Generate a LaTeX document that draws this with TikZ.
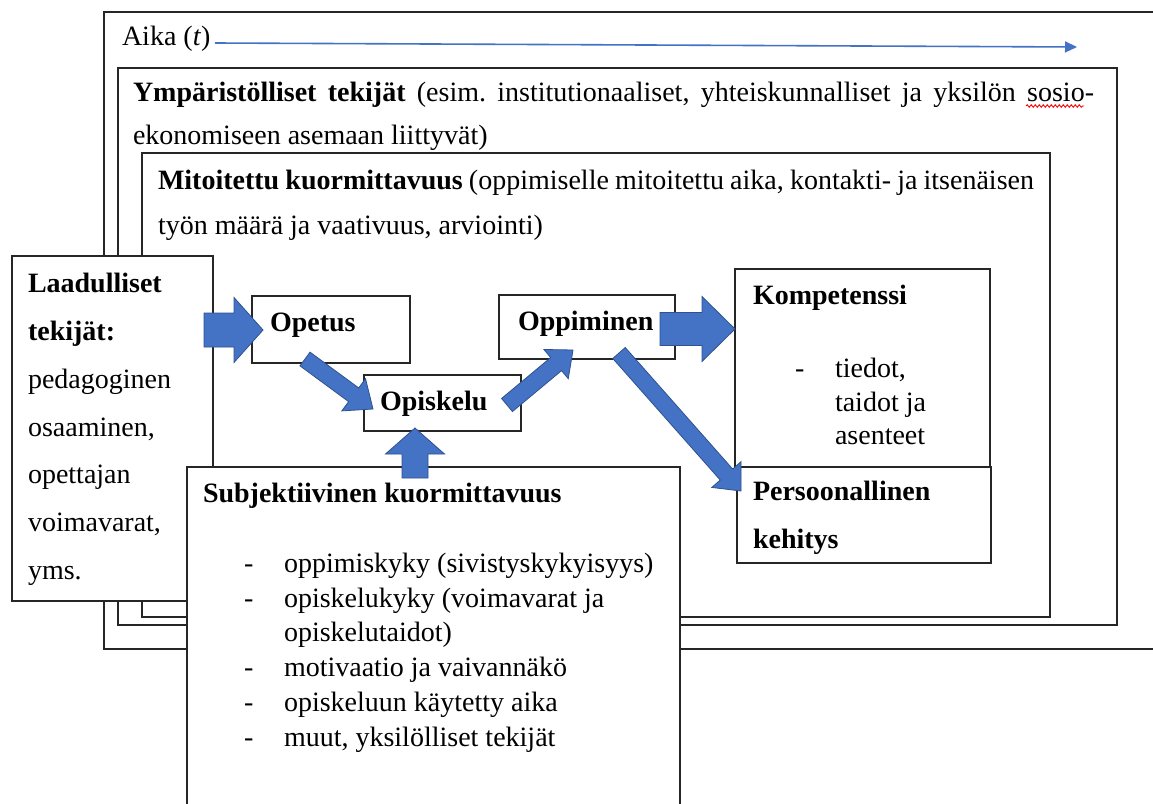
\documentclass[tikz,border=0pt]{standalone}
\usepackage{fontspec}
\setmainfont{Liberation Serif}
\usetikzlibrary{calc,arrows.meta,decorations.pathmorphing}
\frenchspacing

\definecolor{officeblue}{HTML}{4472C4}
\definecolor{officeedge}{HTML}{2F528F}

\tikzset{
  panel/.style={draw=black!85, line width=1.2pt, fill=white, rectangle,
    inner sep=0pt, outer sep=0pt, anchor=north west},
  txt/.style={anchor=base west, inner sep=0pt, outer sep=0pt,
    font=\fontsize{28}{34}\selectfont},
  blockarrow/.style={fill=officeblue, draw=officeedge, line width=0.8pt,
    line join=miter},
}

% block arrow: #1 tail, #2 tip, #3 half shaft width, #4 half head width, #5 head length
\newcommand\blockarrow[5]{%
  \coordinate (ba-neck) at ($(#2)!#5!(#1)$);
  \filldraw[blockarrow]
    ($(#1)!#3!90:(#2)$) -- ($(ba-neck)!#3!90:(#2)$) --
    ($(ba-neck)!#4!90:(#2)$) -- (#2) --
    ($(ba-neck)!#4!-90:(#2)$) -- ($(ba-neck)!#3!-90:(#2)$) --
    ($(#1)!#3!-90:(#2)$) -- cycle;
}

\begin{document}
\begin{tikzpicture}[x=1pt, y=-1pt]
\clip (0,0) rectangle (1153,803);
\fill[white] (0,0) rectangle (1153,803);

% nested frames
\node[panel, minimum width=1100pt, minimum height=637pt] (time) at (104,12) {};
\node[panel, minimum width=999pt, minimum height=557pt] (env) at (118,68) {};
\node[panel, minimum width=908pt, minimum height=464pt] (load) at (142,153) {};

% time axis
\node[txt] (aika) at (122,45) {Aika (\textit{t})};
\coordinate (aikastart) at (215,43);
\coordinate (aikaend) at (1077,47);
\draw[officeblue, line width=1.6pt, -{Triangle[length=12pt,width=11pt]}] (aikastart) -- (aikaend);

% process boxes
\node[panel, minimum width=158pt, minimum height=67pt] (opetus) at (252,296) {};
\node[panel, minimum width=157pt, minimum height=56pt] (opiskelu) at (364,375) {};
\node[panel, minimum width=176pt, minimum height=64pt] (oppiminen) at (499,295) {};
\node[panel, minimum width=255pt, minimum height=198pt] (komp) at (735,269) {};
\node[panel, minimum width=254pt, minimum height=96pt] (pers) at (737,467) {};

% side boxes
\node[panel, minimum width=201pt, minimum height=345pt] (laad) at (12,256) {};
\node[panel, minimum width=493pt, minimum height=360pt] (subj) at (187,467) {};

% block arrows
\coordinate (a1s) at (204,330);  \coordinate (a1e) at (263,330);
\coordinate (a2s) at (305,359);  \coordinate (a2e) at (373,409);
\coordinate (a3s) at (507,405);  \coordinate (a3e) at (573,350);
\coordinate (a4s) at (660,329);  \coordinate (a4e) at (735,329);
\coordinate (a5s) at (619,353);  \coordinate (a5e) at (741,491);
\coordinate (a6s) at (415,478);  \coordinate (a6e) at (415,428);
\blockarrow{a1s}{a1e}{17pt}{32.5pt}{29pt}
\blockarrow{a2s}{a2e}{8.5pt}{20pt}{24pt}
\blockarrow{a3s}{a3e}{8.5pt}{19pt}{22pt}
\blockarrow{a4s}{a4e}{16.5pt}{32.5pt}{33pt}
\blockarrow{a5s}{a5e}{8.3pt}{19.5pt}{22pt}
\blockarrow{a6s}{a6e}{13pt}{29.5pt}{26pt}

% frame texts
\node[txt] (ymp1) at (133,101) {\makebox[961pt][s]{\textbf{Ympäristölliset tekijät} (esim. institutionaaliset, yhteiskunnalliset ja yksilön sosio-}};
\node[txt] (ymp2) at (133,144) {ekonomiseen asemaan liittyvät)};
\draw[red, line width=0.9pt, decorate, decoration={snake, amplitude=1.2pt, segment length=4pt}] (1026,106) -- (1084,106);
\node[txt] (mit1) at (158,189) {\makebox[876pt][s]{\textbf{Mitoitettu kuormittavuus} (oppimiselle mitoitettu aika, kontakti- ja itsenäisen}};
\node[txt] (mit2) at (158,234) {työn määrä ja vaativuus, arviointi)};

% left box text
\node[txt] (laad1) at (28,292) {\textbf{Laadulliset}};
\node[txt] (laad2) at (28,340) {\textbf{tekijät:}};
\node[txt] (laad3) at (28,388) {pedagoginen};
\node[txt] (laad4) at (28,436) {osaaminen,};
\node[txt] (laad5) at (28,483) {opettajan};
\node[txt] (laad6) at (28,531) {voimavarat,};
\node[txt] (laad7) at (28,579) {yms.};

% process texts
\node[txt] (topetus) at (270,331) {\textbf{Opetus}};
\node[txt] (topiskelu) at (380,410) {\textbf{Opiskelu}};
\node[txt] (toppiminen) at (518,330) {\textbf{Oppiminen}};

\node[txt] (tkomp) at (753,304) {\textbf{Kompetenssi}};
\node[txt] (kdash) at (795,377) {-};
\node[txt] (k1) at (835,377) {tiedot,};
\node[txt] (k2) at (835,411) {taidot ja};
\node[txt] (k3) at (835,444) {asenteet};

\node[txt] (tpers1) at (753,500) {\textbf{Persoonallinen}};
\node[txt] (tpers2) at (753,548) {\textbf{kehitys}};

% subjective load list
\node[txt] (tsubj) at (203,502) {\textbf{Subjektiivinen kuormittavuus}};
\node[txt] (sd1) at (244,572) {-};
\node[txt] (s1) at (284,572) {oppimiskyky (sivistyskykyisyys)};
\node[txt] (sd2) at (244,607) {-};
\node[txt] (s2) at (284,607) {opiskelukyky (voimavarat ja};
\node[txt] (s2b) at (284,641) {opiskelutaidot)};
\node[txt] (sd3) at (244,676) {-};
\node[txt] (s3) at (284,676) {motivaatio ja vaivannäkö};
\node[txt] (sd4) at (244,711) {-};
\node[txt] (s4) at (284,711) {opiskeluun käytetty aika};
\node[txt] (sd5) at (244,746) {-};
\node[txt] (s5) at (284,746) {muut, yksilölliset tekijät};
\end{tikzpicture}
\end{document}
